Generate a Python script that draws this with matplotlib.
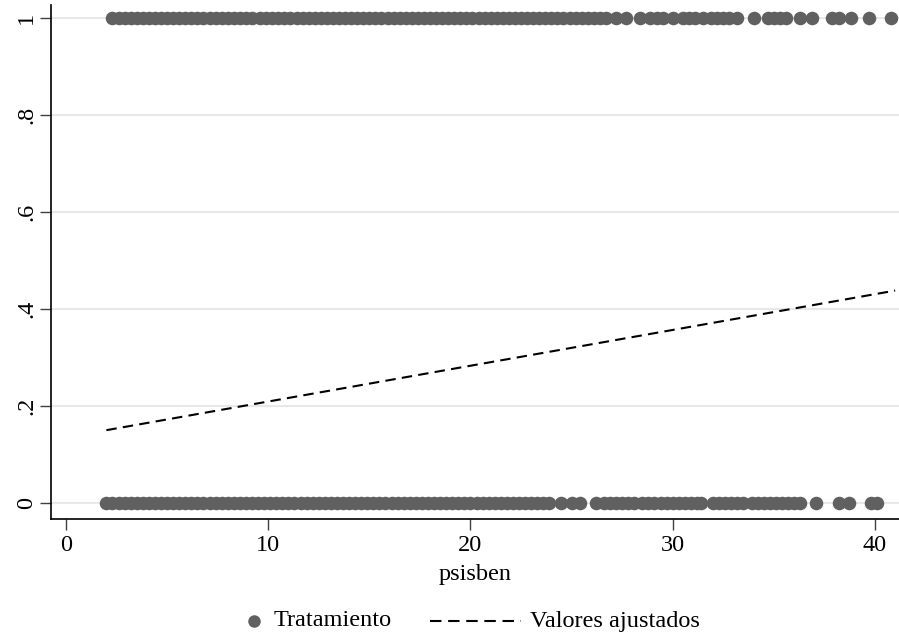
import matplotlib
matplotlib.use('Agg')
import matplotlib.pyplot as plt
from matplotlib.lines import Line2D

####################################
# Scatter of treatment (0/1) against psisben with a linear fit, Stata look.

x_treated = [2.3, 2.6, 2.9, 3.2, 3.5, 3.8, 4.1, 4.4, 4.7, 5.0, 5.3, 5.6, 5.9, 6.2,
             6.5, 6.8, 7.1, 7.4, 7.7, 8.0, 8.3, 8.6, 8.9, 9.2,
             9.6, 9.9, 10.2, 10.5, 10.8, 11.1, 11.4, 11.7, 12.0, 12.3, 12.6, 12.9,
             13.2, 13.5, 13.8, 14.1, 14.4, 14.7, 15.0, 15.3, 15.6, 15.9, 16.2, 16.5,
             16.8, 17.1, 17.4, 17.7, 18.0, 18.3, 18.6, 18.9, 19.2, 19.5, 19.8, 20.1,
             20.4, 20.7, 21.0, 21.3, 21.6, 21.9, 22.2, 22.5, 22.8, 23.1, 23.4, 23.7,
             24.0, 24.3, 24.6, 24.9, 25.2, 25.5, 25.8, 26.1, 26.4, 26.7,
             27.2, 27.7, 28.4, 28.9, 29.2, 29.5, 30.0, 30.5, 30.8, 31.1, 31.5,
             31.9, 32.2, 32.5, 32.8, 33.2, 34.0, 34.7, 35.0, 35.3, 35.6,
             36.3, 36.9, 37.9, 38.2, 38.8, 39.7, 40.8]

# psisben values of the observations with Tratamiento = 0 (bottom row)
x_control = [2.0, 2.3, 2.6, 2.9, 3.2, 3.5, 3.8, 4.1, 4.4, 4.7, 5.0, 5.3, 5.6, 5.9,
             6.2, 6.5, 6.8, 7.1, 7.4, 7.7, 8.0, 8.3, 8.6, 8.9, 9.2, 9.5, 9.8, 10.1,
             10.4, 10.7, 11.0, 11.3, 11.6, 11.9, 12.2, 12.5, 12.8, 13.1, 13.4, 13.7,
             14.0, 14.3, 14.6, 14.9, 15.2, 15.5, 15.8, 16.1, 16.4, 16.7, 17.0, 17.3,
             17.6, 17.9, 18.2, 18.5, 18.8, 19.1, 19.4, 19.7, 20.0, 20.3, 20.6, 20.9,
             21.2, 21.5, 21.8, 22.1, 22.4, 22.7, 23.0, 23.3, 23.6, 23.9,
             24.5, 25.0, 25.4, 26.2,
             26.6, 26.9, 27.2, 27.5, 27.8, 28.1, 28.5, 28.8, 29.1, 29.4, 29.7, 30.0,
             30.3, 30.6, 30.9, 31.2, 31.4,
             32.0, 32.3, 32.6, 32.9, 33.2, 33.5, 33.9, 34.2, 34.5, 34.8, 35.1, 35.4,
             35.7, 36.0, 36.3, 37.1, 38.2, 38.7, 39.8, 40.1]

# fitted values (Valores ajustados) at the ends of the data range
fit_x = [2.0, 41.0]
fit_y = [0.150, 0.438]

y_ticks = [0, 0.2, 0.4, 0.6, 0.8, 1]
y_ticklabels = ['0', '.2', '.4', '.6', '.8', '1']
x_ticks = [0, 10, 20, 30, 40]

legend_labels = ['Tratamiento', 'Valores ajustados']

####################################

plt.rcParams['font.family'] = ['Liberation Serif', 'DejaVu Serif']

point_color = '#606060'

fig = plt.figure(figsize=(8.99, 6.39), dpi=100)
ax = fig.add_axes([0.0567, 0.188, 0.9433, 0.804])

ax.scatter(x_treated, [1] * len(x_treated), s=95, color=point_color,
           linewidths=0, zorder=3)
ax.scatter(x_control, [0] * len(x_control), s=95, color=point_color,
           linewidths=0, zorder=3)
ax.plot(fit_x, fit_y, color='black', lw=1.5, dashes=(5, 3), zorder=4)

ax.set_xlim(-0.74, 41.19)
ax.set_ylim(-0.033, 1.027)

ax.set_yticks(y_ticks)
ax.set_yticklabels(y_ticklabels, rotation=90, va='center')
ax.set_xticks(x_ticks)
ax.tick_params(axis='both', labelsize=17.5, length=8, width=1, color='#404040')
ax.tick_params(axis='y', pad=2)

ax.grid(axis='y', color='#e8e8e8', lw=1.5, zorder=0)
ax.set_axisbelow(True)

for side in ['top', 'right']:
    ax.spines[side].set_visible(False)
for side in ['left', 'bottom']:
    ax.spines[side].set_linewidth(1.2)

ax.set_xlabel('psisben', fontsize=17.5, labelpad=6)

# legend below the plot, laid out by hand (Stata keys have different widths)
leg_y = 1 - 621 / 639
fig.add_artist(Line2D([254 / 899], [leg_y], ls='none', marker='o', ms=9,
                      color=point_color, mec='none', transform=fig.transFigure))
fig.text(274 / 899, leg_y, legend_labels[0], fontsize=17.5, ha='left', va='center')
fig.add_artist(Line2D([430 / 899, 521 / 899], [leg_y, leg_y], color='black',
                      lw=1.5, dashes=(5.5, 3.2), transform=fig.transFigure))
fig.text(530 / 899, leg_y, legend_labels[1], fontsize=17.5, ha='left', va='center')

fig.savefig('out.png', dpi=100)
